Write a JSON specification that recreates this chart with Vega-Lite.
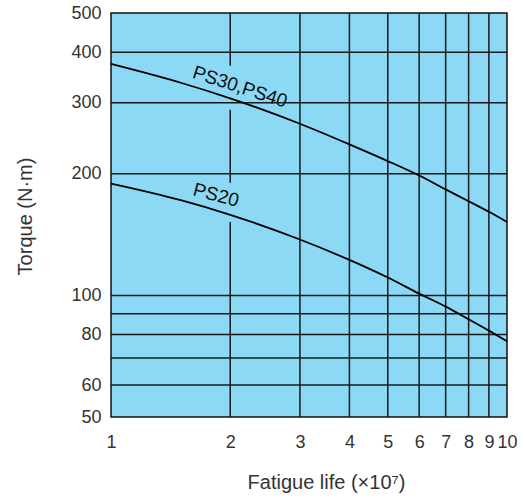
{
  "$schema": "https://vega.github.io/schema/vega-lite/v6.json",
  "autosize": "none",
  "width": 396,
  "height": 404,
  "padding": {"left": 111, "top": 13, "right": 18, "bottom": 83},
  "background": "#ffffff",
  "config": {
    "view": {"fill": "#8cd9f5", "stroke": "#111111", "strokeWidth": 1.5},
    "font": "Liberation Sans",
    "axis": {"grid": false, "ticks": false, "domain": false, "labelFont": "Liberation Sans", "titleFont": "Liberation Sans", "labelColor": "#333333", "titleColor": "#333333", "labelFontSize": 18, "titleFontSize": 20, "titleFontWeight": "normal"}
  },
  "datasets": {
    "curves": [
      {"life": 1, "torque": 374, "model": "PS30,PS40"},
      {"life": 1.5, "torque": 336, "model": "PS30,PS40"},
      {"life": 2, "torque": 307.5, "model": "PS30,PS40"},
      {"life": 3, "torque": 266, "model": "PS30,PS40"},
      {"life": 4, "torque": 236.5, "model": "PS30,PS40"},
      {"life": 5, "torque": 215, "model": "PS30,PS40"},
      {"life": 6, "torque": 198, "model": "PS30,PS40"},
      {"life": 7, "torque": 183, "model": "PS30,PS40"},
      {"life": 8, "torque": 171, "model": "PS30,PS40"},
      {"life": 9, "torque": 161, "model": "PS30,PS40"},
      {"life": 10, "torque": 152, "model": "PS30,PS40"},
      {"life": 1, "torque": 189, "model": "PS20"},
      {"life": 1.5, "torque": 172, "model": "PS20"},
      {"life": 2, "torque": 158.3, "model": "PS20"},
      {"life": 3, "torque": 137.5, "model": "PS20"},
      {"life": 4, "torque": 122.4, "model": "PS20"},
      {"life": 5, "torque": 110.7, "model": "PS20"},
      {"life": 6, "torque": 101, "model": "PS20"},
      {"life": 7, "torque": 93.8, "model": "PS20"},
      {"life": 8, "torque": 87.3, "model": "PS20"},
      {"life": 9, "torque": 81.8, "model": "PS20"},
      {"life": 10, "torque": 77, "model": "PS20"}
    ],
    "hgrid": [
      {"torque": 60}, {"torque": 70}, {"torque": 80}, {"torque": 90},
      {"torque": 100}, {"torque": 200}, {"torque": 300}, {"torque": 400}
    ],
    "vgrid": [
      {"life": 2, "y1": 370, "y2": 500},
      {"life": 2, "y1": 190, "y2": 288},
      {"life": 2, "y1": 50, "y2": 152},
      {"life": 3, "y1": 50, "y2": 500},
      {"life": 4, "y1": 50, "y2": 500},
      {"life": 5, "y1": 50, "y2": 500},
      {"life": 6, "y1": 50, "y2": 500},
      {"life": 7, "y1": 50, "y2": 500},
      {"life": 8, "y1": 50, "y2": 500},
      {"life": 9, "y1": 50, "y2": 500}
    ],
    "labels": [
      {"life": 2.117, "torque": 328, "text": "PS30,PS40", "angle": 18},
      {"life": 1.841, "torque": 177, "text": "PS20", "angle": 15}
    ]
  },
  "layer": [
    {
      "data": {"name": "hgrid"},
      "mark": {"type": "rule", "color": "#1a1a1a", "strokeWidth": 1.5},
      "encoding": {
        "y": {"field": "torque", "type": "quantitative", "scale": {"type": "log", "domain": [50, 500], "nice": false},
          "axis": {"values": [50, 60, 80, 100, 200, 300, 400, 500], "title": "Torque (N·m)", "labelPadding": 10, "titleX": -86, "titleY": 203, "titleAngle": -90, "titleAlign": "center", "titleBaseline": "middle"}}
      }
    },
    {
      "data": {"name": "vgrid"},
      "mark": {"type": "rule", "color": "#1a1a1a", "strokeWidth": 1.5},
      "encoding": {
        "x": {"field": "life", "type": "quantitative", "scale": {"type": "log", "domain": [1, 10], "nice": false},
          "axis": {"values": [1, 2, 3, 4, 5, 6, 7, 8, 9, 10], "title": "Fatigue life (×10⁷)", "labelPadding": 16, "labelFlush": false, "titleX": 215, "titleY": 65, "titleAlign": "center", "titleBaseline": "middle"}},
        "y": {"field": "y1", "type": "quantitative"},
        "y2": {"field": "y2"}
      }
    },
    {
      "data": {"name": "curves"},
      "mark": {"type": "line", "color": "#000000", "strokeWidth": 1.8, "interpolate": "monotone"},
      "encoding": {
        "x": {"field": "life", "type": "quantitative"},
        "y": {"field": "torque", "type": "quantitative"},
        "detail": {"field": "model"}
      }
    },
    {
      "data": {"name": "labels"},
      "mark": {"type": "text", "fontSize": 19, "color": "#111111", "align": "center", "baseline": "middle", "font": "Liberation Sans"},
      "encoding": {
        "x": {"field": "life", "type": "quantitative"},
        "y": {"field": "torque", "type": "quantitative"},
        "text": {"field": "text"},
        "angle": {"field": "angle", "type": "quantitative", "scale": null}
      }
    }
  ]
}
